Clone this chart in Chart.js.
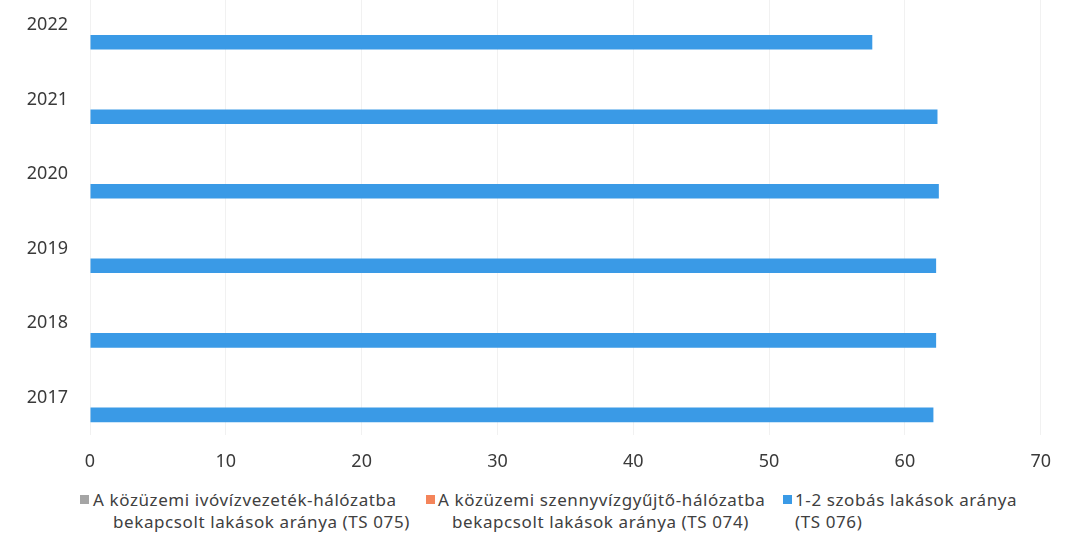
<!DOCTYPE html>
<html>
<head>
<meta charset="utf-8">
<script src="https://cdn.jsdelivr.net/npm/chart.js@4/dist/chart.umd.min.js"></script>
<style>
    body { margin: 0; background: #fff; width: 1067px; height: 544px; overflow: hidden; position: relative; }
    #wrap { position: absolute; left: 0; top: -37px; width: 1067px; height: 513px; }
    .leg { position: absolute; font-family: "Noto Sans", sans-serif; font-size: 17px; letter-spacing: 0.6px; color: #404040; white-space: nowrap; line-height: 22px; }
    .box { position: absolute; width: 9px; height: 9px; }
</style>
</head>
<body>
<div id="wrap"><canvas id="chart"></canvas></div>

<div class="box" style="left:80px; top:495px; background:#a5a5a5;"></div>
<div class="leg" style="left:93px; top:489px;">A közüzemi ivóvízvezeték-hálózatba</div>
<div class="leg" style="left:113px; top:511px;">bekapcsolt lakások aránya (TS 075)</div>

<div class="box" style="left:426px; top:495px; background:#f4845a;"></div>
<div class="leg" style="left:438px; top:489px;">A közüzemi szennyvízgyűjtő-hálózatba</div>
<div class="leg" style="left:452px; top:511px;">bekapcsolt lakások aránya (TS 074)</div>

<div class="box" style="left:783px; top:495px; background:#3a9ae6;"></div>
<div class="leg" style="left:795px; top:489px;">1-2 szobás lakások aránya</div>
<div class="leg" style="left:795px; top:511px;">(TS 076)</div>

<script>
// Years top to bottom
const years = ['2022', '2021', '2020', '2019', '2018', '2017'];
// Series (percent); only TS 076 has visible bars
const ts075 = [null, null, null, null, null, null];
const ts074 = [null, null, null, null, null, null];
const ts076 = [57.6, 62.4, 62.5, 62.3, 62.3, 62.1];

const xMax = 70;
const xStep = 10;

let ctx = document.getElementById('chart').getContext('2d');

new Chart(ctx, {
    type: 'bar',
    data: {
        labels: years,
        datasets: [
            { label: 'A közüzemi ivóvízvezeték-hálózatba bekapcsolt lakások aránya (TS 075)', data: ts075, backgroundColor: '#a5a5a5' },
            { label: 'A közüzemi szennyvízgyűjtő-hálózatba bekapcsolt lakások aránya (TS 074)', data: ts074, backgroundColor: '#f4845a' },
            { label: '1-2 szobás lakások aránya (TS 076)', data: ts076, backgroundColor: '#3a9ae6' }
        ]
    },
    options: {
        indexAxis: 'y',
        responsive: true,
        maintainAspectRatio: false,
        animation: false,
        categoryPercentage: 0.69,
        barPercentage: 0.85,
        layout: { padding: { left: 0, right: 25, top: 0, bottom: 0 } },
        plugins: {
            legend: { display: false },
            tooltip: { enabled: false }
        },
        scales: {
            x: {
                min: 0,
                max: xMax,
                ticks: {
                    stepSize: xStep,
                    color: '#3a3a3a',
                    font: { family: 'Noto Sans', size: 18 },
                    padding: 16
                },
                grid: { color: '#f1f1f1', drawTicks: false },
                border: { display: false },
                afterFit: function(scale) { scale.height = 41; }
            },
            y: {
                ticks: {
                    color: '#3a3a3a',
                    font: { family: 'Noto Sans', size: 18 },
                    padding: 14
                },
                grid: { display: false },
                border: { display: false },
                afterFit: function(scale) { scale.width = 90; }
            }
        }
    }
});
</script>
</body>
</html>
